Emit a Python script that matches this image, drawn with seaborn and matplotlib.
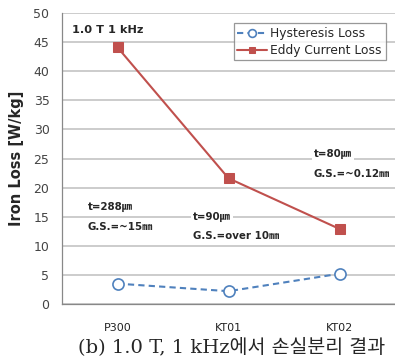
import pandas as pd
import numpy as np
import matplotlib
matplotlib.use("Agg")
import matplotlib.pyplot as plt
import seaborn as sns

# data
samples = ["P300", "KT01", "KT02"]
hysteresis_loss = [3.5, 2.2, 5.2]
eddy_loss = [44.1, 21.6, 12.9]
y_ticks = [0, 5, 10, 15, 20, 25, 30, 35, 40, 45, 50]

sns.set_theme(style="white")
plt.rcParams["font.family"] = ["DejaVu Sans", "Noto Sans CJK KR"]

df = pd.DataFrame({
    "sample": samples * 2,
    "loss": hysteresis_loss + eddy_loss,
    "kind": ["Hysteresis Loss"] * 3 + ["Eddy Current Loss"] * 3,
})
df["x"] = df["sample"].map({s: i for i, s in enumerate(samples)})

blue = "#4F81BD"
red = "#C0504D"
grid_c = "#C4C4C4"

fig = plt.figure(figsize=(3.95, 3.58), dpi=100)
ax = fig.add_axes([62 / 395, 54 / 358, 333 / 395, 291 / 358])

hyst = df[df["kind"] == "Hysteresis Loss"]
eddy = df[df["kind"] == "Eddy Current Loss"]
sns.lineplot(data=hyst, x="x", y="loss", ax=ax, color=blue, lw=1.5,
             linestyle=(0, (3, 2)), marker="o", markersize=8,
             markerfacecolor="white", markeredgecolor=blue, markeredgewidth=1.2,
             label="Hysteresis Loss", zorder=4)
sns.lineplot(data=eddy, x="x", y="loss", ax=ax, color=red, lw=1.5,
             marker="s", markersize=7, markerfacecolor=red, markeredgecolor=red,
             label="Eddy Current Loss", zorder=4)

ax.set_xlim(-0.5, 2.5)
ax.set_ylim(0, 50)
ax.set_yticks(y_ticks)
ax.set_yticklabels([str(v) for v in y_ticks], fontsize=9, color="#444444")
ax.set_xticks(range(len(samples)))
ax.set_xticklabels(samples, fontsize=8, color="#222222")
ax.set_xticks([-0.5, 0.5, 1.5, 2.5], minor=True)
ax.tick_params(axis="x", which="major", length=0, pad=14)
ax.tick_params(axis="x", which="minor", length=4, color="#888888", width=0.8, direction="out")
ax.tick_params(axis="y", length=4, color="#888888", width=0.8, direction="out", pad=5)
ax.yaxis.grid(True, color=grid_c, lw=1.2)
ax.set_axisbelow(True)
for s in ["top", "right"]:
    ax.spines[s].set_visible(False)
for s in ["left", "bottom"]:
    ax.spines[s].set_color("#888888")
    ax.spines[s].set_linewidth(0.9)
ax.set_xlabel("")
ax.set_ylabel("Iron Loss [W/kg]", fontsize=10.5, fontweight="bold", labelpad=7)

leg = ax.legend(loc="upper right", bbox_to_anchor=(0.99, 0.985), fontsize=8.8,
                frameon=True, fancybox=False, handlelength=2.4, borderpad=0.3,
                labelspacing=0.3, handletextpad=0.3, markerscale=0.7)
leg.get_frame().set_edgecolor("#7F7F7F")
leg.get_frame().set_linewidth(0.9)

box = dict(facecolor="white", edgecolor="none", pad=1.5)
notes = [
    (-0.41, 47.1, "1.0 T 1 kHz", 8.2),
    (-0.27, 16.6, "t=288㎛", 7.4),
    (-0.27, 13.2, "G.S.=~15㎜", 7.4),
    (0.68, 14.9, "t=90㎛", 7.4),
    (0.68, 11.6, "G.S.=over 10㎜", 7.4),
    (1.77, 25.7, "t=80㎛", 7.4),
    (1.77, 22.3, "G.S.=~0.12㎜", 7.4),
]
for x, y, t, fs in notes:
    ax.text(x, y, t, fontsize=fs, fontweight="bold", ha="left", va="center",
            bbox=box, zorder=3, family=["DejaVu Sans", "Noto Sans CJK KR"])

fig.text(0.585, 11 / 358, "(b) 1.0 T, 1 kHz에서 손실분리 결과", ha="center", va="center",
         fontsize=14, family=["DejaVu Serif", "Noto Sans CJK KR"])

fig.savefig("out.png", dpi=100)
